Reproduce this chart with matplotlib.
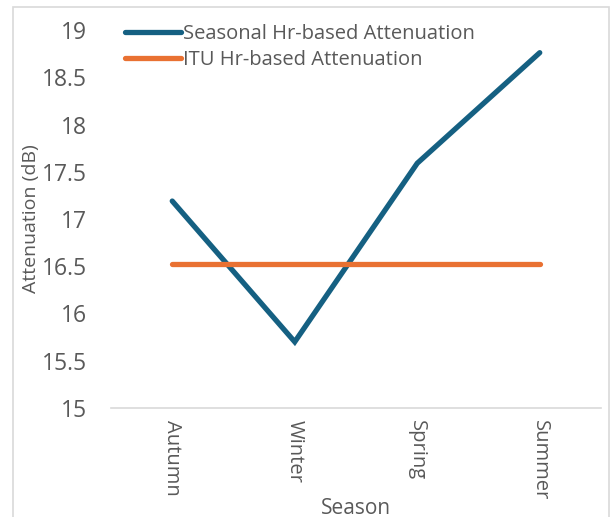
import matplotlib
matplotlib.use("Agg")
import matplotlib.pyplot as plt
from matplotlib.patches import Rectangle

seasons = ["Autumn", "Winter", "Spring", "Summer"]
seasonal_atten = [17.19, 15.70, 17.59, 18.76]
itu_atten = [16.52, 16.52, 16.52, 16.52]
y_ticks = [15, 15.5, 16, 16.5, 17, 17.5, 18, 18.5, 19]

plt.rcParams['font.family'] = ['Open Sans', 'DejaVu Sans']
text_grey = "#595959"

fig = plt.figure(figsize=(6.12, 5.17), dpi=100)
ax = fig.add_axes([111/612, 1 - 408/517, 490/612, 378/517])

x = list(range(len(seasons)))
ax.plot(x, seasonal_atten, color="#156082", lw=3.8, solid_capstyle="round",
        solid_joinstyle="miter", label="Seasonal Hr-based Attenuation")
ax.plot(x, itu_atten, color="#E97132", lw=3.8, solid_capstyle="round",
        label="ITU Hr-based Attenuation")

ax.set_xlim(-0.5, len(seasons) - 0.5)
ax.set_ylim(15, 19)
ax.set_yticks(y_ticks)
ax.set_yticklabels([f"{v:g}" for v in y_ticks], fontsize=16.5, color=text_grey)
ax.set_xticks(x)
ax.set_xticklabels(seasons, rotation=-90, fontsize=14.5, color=text_grey,
                   va="top", ha="center")
ax.tick_params(axis="y", length=0, pad=17)
ax.tick_params(axis="x", length=0, pad=9)

for side in ("top", "right", "left"):
    ax.spines[side].set_visible(False)
ax.spines["bottom"].set_color("#D9D9D9")
ax.spines["bottom"].set_linewidth(1.2)

ax.set_xlabel("Season", fontsize=15, color=text_grey)
ax.xaxis.set_label_coords(0.5, -100/378)
ax.xaxis.label.set_va("center")
ax.set_ylabel("Attenuation (dB)", fontsize=14, color=text_grey, labelpad=1.5)

leg = ax.legend(loc="upper left", bbox_to_anchor=(14/490, 1 + 6/378),
                frameon=False, fontsize=14.5, handlelength=2.8,
                handletextpad=0.1, labelspacing=0.3, borderpad=0,
                borderaxespad=0)
for t in leg.get_texts():
    t.set_color(text_grey)

fig.patches.append(Rectangle((13/612, -0.02), 596/612, 1.02 - 7/517,
                             transform=fig.transFigure, fill=False,
                             edgecolor="#D9D9D9", lw=1.2))

fig.savefig("out.png", dpi=100)
